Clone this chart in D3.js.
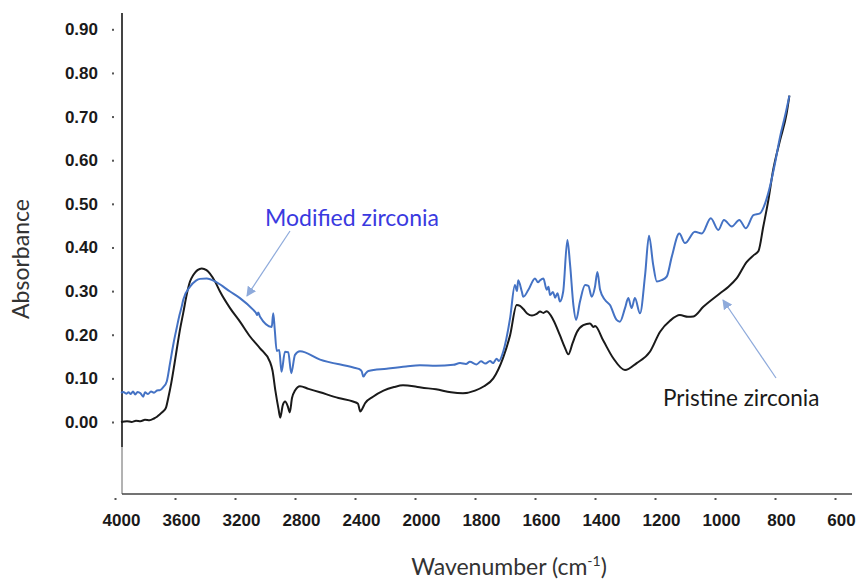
<!DOCTYPE html>
<html>
<head>
<meta charset="utf-8">
<script src="https://cdnjs.cloudflare.com/ajax/libs/d3/7.8.5/d3.min.js"></script>
<style>
    body { margin: 0; background: #fff; }
    #chart { width: 858px; height: 579px; }
    .tickText { font-family: "Liberation Sans", Arial, sans-serif; font-weight: bold; fill: #1a1a1a; }
    .title { font-family: Lato, "Open Sans", sans-serif; fill: #333; }
</style>
</head>
<body>
<div id="chart"></div>
<script>
// tick values for both axes
var xTicks = [4000, 3600, 3200, 2800, 2400, 2000, 1800, 1600, 1400, 1200, 1000, 800, 600];
var yTicks = [0, 0.1, 0.2, 0.3, 0.4, 0.5, 0.6, 0.7, 0.8, 0.9];

// pristine zirconia spectrum [wavenumber, absorbance]
var pristine = [
    [4000, 0.000], [3960, 0.002], [3930, 0.000], [3900, 0.003], [3870, 0.002], [3840, 0.005],
    [3810, 0.004], [3780, 0.008], [3760, 0.012], [3740, 0.018], [3720, 0.024], [3700, 0.033],
    [3685, 0.055], [3665, 0.089], [3645, 0.130], [3629, 0.165], [3605, 0.215], [3585, 0.250],
    [3562, 0.292], [3540, 0.322], [3518, 0.337], [3490, 0.348], [3462, 0.352], [3430, 0.348],
    [3407, 0.340], [3370, 0.320], [3340, 0.299], [3273, 0.261], [3207, 0.230], [3140, 0.196],
    [3073, 0.169], [3007, 0.138], [2990, 0.118], [2970, 0.070], [2950, 0.030], [2938, 0.010],
    [2922, 0.038], [2906, 0.047], [2888, 0.036], [2875, 0.022], [2860, 0.055], [2840, 0.072],
    [2807, 0.082], [2750, 0.076], [2673, 0.068], [2550, 0.055], [2453, 0.047], [2420, 0.042],
    [2405, 0.024], [2392, 0.030], [2373, 0.043], [2320, 0.058], [2250, 0.072], [2180, 0.080],
    [2120, 0.084], [2050, 0.082], [2000, 0.079], [1950, 0.075], [1900, 0.068], [1860, 0.066],
    [1820, 0.072], [1790, 0.082], [1759, 0.100], [1727, 0.146], [1703, 0.199], [1681, 0.268],
    [1670, 0.266], [1659, 0.259], [1645, 0.248], [1630, 0.244], [1614, 0.248], [1603, 0.253],
    [1592, 0.250], [1581, 0.254], [1559, 0.234], [1537, 0.199], [1520, 0.170], [1509, 0.155],
    [1495, 0.180], [1481, 0.205], [1459, 0.222], [1437, 0.226], [1425, 0.218], [1420, 0.220],
    [1392, 0.186], [1359, 0.146], [1320, 0.119], [1281, 0.135], [1237, 0.161], [1203, 0.207],
    [1170, 0.232], [1137, 0.245], [1110, 0.241], [1092, 0.242], [1059, 0.264], [1003, 0.295],
    [975, 0.310], [948, 0.329], [914, 0.367], [890, 0.383], [875, 0.392], [859, 0.448],
    [842, 0.509], [826, 0.578], [803, 0.646], [781, 0.708], [772, 0.748]
];

// modified zirconia spectrum [wavenumber, absorbance]
var modified = [
    [4000, 0.067], [3985, 0.069], [3965, 0.065], [3950, 0.068], [3935, 0.064], [3920, 0.070],
    [3905, 0.063], [3890, 0.069], [3870, 0.066], [3852, 0.058], [3840, 0.068], [3820, 0.064],
    [3800, 0.070], [3780, 0.067], [3760, 0.072], [3740, 0.073], [3718, 0.080], [3695, 0.093],
    [3673, 0.135], [3650, 0.180], [3629, 0.215], [3610, 0.245], [3595, 0.265], [3585, 0.280],
    [3540, 0.310], [3500, 0.324], [3473, 0.328], [3429, 0.329], [3362, 0.320], [3273, 0.299],
    [3207, 0.284], [3118, 0.257], [3100, 0.250], [3092, 0.245], [3085, 0.251], [3073, 0.241],
    [2995, 0.218], [2985, 0.249], [2975, 0.212], [2962, 0.163], [2945, 0.165], [2930, 0.115],
    [2907, 0.161], [2885, 0.160], [2865, 0.112], [2840, 0.154], [2807, 0.162], [2673, 0.143],
    [2451, 0.125], [2410, 0.121], [2395, 0.116], [2385, 0.104], [2370, 0.111], [2351, 0.117],
    [2229, 0.122], [2100, 0.127], [2007, 0.130], [1950, 0.129], [1892, 0.131], [1870, 0.135],
    [1850, 0.133], [1837, 0.138], [1815, 0.132], [1800, 0.139], [1785, 0.134], [1770, 0.140],
    [1760, 0.135], [1748, 0.145], [1740, 0.140], [1726, 0.161], [1703, 0.238], [1687, 0.314],
    [1680, 0.300], [1676, 0.325], [1664, 0.299], [1659, 0.287], [1642, 0.303], [1620, 0.329],
    [1610, 0.320], [1603, 0.325], [1592, 0.329], [1581, 0.303], [1575, 0.310], [1570, 0.291],
    [1560, 0.298], [1553, 0.285], [1545, 0.295], [1537, 0.276], [1526, 0.299], [1512, 0.417],
    [1503, 0.360], [1492, 0.268], [1483, 0.234], [1470, 0.276], [1453, 0.314], [1442, 0.312],
    [1431, 0.287], [1420, 0.310], [1412, 0.344], [1403, 0.303], [1387, 0.280], [1370, 0.268],
    [1348, 0.234], [1337, 0.230], [1320, 0.261], [1309, 0.284], [1298, 0.261], [1287, 0.284],
    [1270, 0.249], [1253, 0.337], [1240, 0.427], [1226, 0.360], [1214, 0.322], [1198, 0.325],
    [1181, 0.333], [1164, 0.379], [1139, 0.432], [1120, 0.410], [1087, 0.436], [1064, 0.432],
    [1034, 0.467], [1009, 0.440], [990, 0.463], [964, 0.448], [939, 0.463], [917, 0.444],
    [892, 0.474], [870, 0.478], [853, 0.501], [837, 0.539], [820, 0.593], [803, 0.654],
    [787, 0.700], [772, 0.748]
];

// annotation labels
var labelModified = "Modified zirconia";
var labelPristine = "Pristine zirconia";


var width = 858;
var height = 579;

var svg = d3.select("#chart")
    .append("svg")
    .attr("width", width)
    .attr("height", height);


// x axis is broken in scale at 2000 (half scale above it)
var x = d3.scaleLinear()
    .domain([4000, 2000, 600])
    .range([121, 421, 841]);

var y = d3.scaleLinear()
    .domain([0, 0.9])
    .range([422, 29.3]);


// axis lines
svg.append("line")
    .attr("x1", 122).attr("x2", 122)
    .attr("y1", 13).attr("y2", 447)
    .attr("stroke", "#444").attr("stroke-width", 2);
svg.append("line")
    .attr("x1", 122).attr("x2", 122)
    .attr("y1", 447).attr("y2", 494)
    .attr("stroke", "#666").attr("stroke-width", 1);
svg.append("line")
    .attr("x1", 122).attr("x2", 852)
    .attr("y1", 494).attr("y2", 494)
    .attr("stroke", "#444").attr("stroke-width", 1.5);


// y axis - labels only, ticks drawn as small dots
var yAxis = svg.append("g")
    .attr("transform", "translate(122,0)")
    .call(d3.axisLeft(y).tickValues(yTicks).tickFormat(d3.format(".2f")).tickSize(0).tickPadding(24));
yAxis.select(".domain").remove();
yAxis.selectAll("text")
    .attr("class", "tickText")
    .style("font-size", "17px");
yAxis.selectAll(".tick").append("rect")
    .attr("x", -10).attr("y", -1)
    .attr("width", 2).attr("height", 2)
    .attr("fill", "#555");

// x axis
var xAxis = svg.append("g")
    .attr("transform", "translate(0,494)")
    .call(d3.axisBottom(x).tickValues(xTicks).tickFormat(d3.format("d")).tickSize(0).tickPadding(20));
xAxis.select(".domain").remove();
xAxis.selectAll("text")
    .attr("class", "tickText")
    .style("font-size", "17px");
xAxis.selectAll(".tick").append("rect")
    .attr("x", -7).attr("y", 4)
    .attr("width", 2).attr("height", 2)
    .attr("fill", "#555");


// spectra
var line = d3.line()
    .x(function (d) { return x(d[0]); })
    .y(function (d) { return y(d[1]); })
    .curve(d3.curveMonotoneX);

svg.append("path")
    .datum(pristine)
    .attr("fill", "none")
    .attr("stroke", "#1a1a1a")
    .attr("stroke-width", 2)
    .attr("d", line);

svg.append("path")
    .datum(modified)
    .attr("fill", "none")
    .attr("stroke", "#4472c4")
    .attr("stroke-width", 2)
    .attr("d", line);


// arrow marker for annotations
svg.append("defs").append("marker")
    .attr("id", "arrow")
    .attr("viewBox", "0 0 10 10")
    .attr("refX", 9).attr("refY", 5)
    .attr("markerWidth", 10).attr("markerHeight", 10)
    .attr("markerUnits", "userSpaceOnUse")
    .attr("orient", "auto")
    .append("path")
    .attr("d", "M0,0 L10,5 L0,10 z")
    .attr("fill", "#8eaadb");

svg.append("line")
    .attr("x1", 290).attr("y1", 231)
    .attr("x2", 247).attr("y2", 296)
    .attr("stroke", "#8eaadb").attr("stroke-width", 1.2)
    .attr("marker-end", "url(#arrow)");

svg.append("line")
    .attr("x1", 776).attr("y1", 378)
    .attr("x2", 723).attr("y2", 300)
    .attr("stroke", "#8eaadb").attr("stroke-width", 1.2)
    .attr("marker-end", "url(#arrow)");

svg.append("text")
    .attr("class", "title")
    .attr("x", 265).attr("y", 226)
    .style("font-size", "23px")
    .style("fill", "#3a3ae0")
    .text(labelModified);

svg.append("text")
    .attr("class", "title")
    .attr("x", 663).attr("y", 406)
    .style("font-size", "22.5px")
    .style("fill", "#1a1a1a")
    .text(labelPristine);


// axis titles
svg.append("text")
    .attr("class", "title")
    .attr("transform", "translate(29,259) rotate(-90)")
    .attr("text-anchor", "middle")
    .style("font-size", "23px")
    .text("Absorbance");

var xt = svg.append("text")
    .attr("class", "title")
    .attr("x", 509).attr("y", 575)
    .attr("text-anchor", "middle")
    .style("font-size", "23px");
xt.append("tspan").text("Wavenumber (cm");
xt.append("tspan").attr("dy", -9).style("font-size", "14px").text("-1");
xt.append("tspan").attr("dy", 9).text(")");
</script>
</body>
</html>
